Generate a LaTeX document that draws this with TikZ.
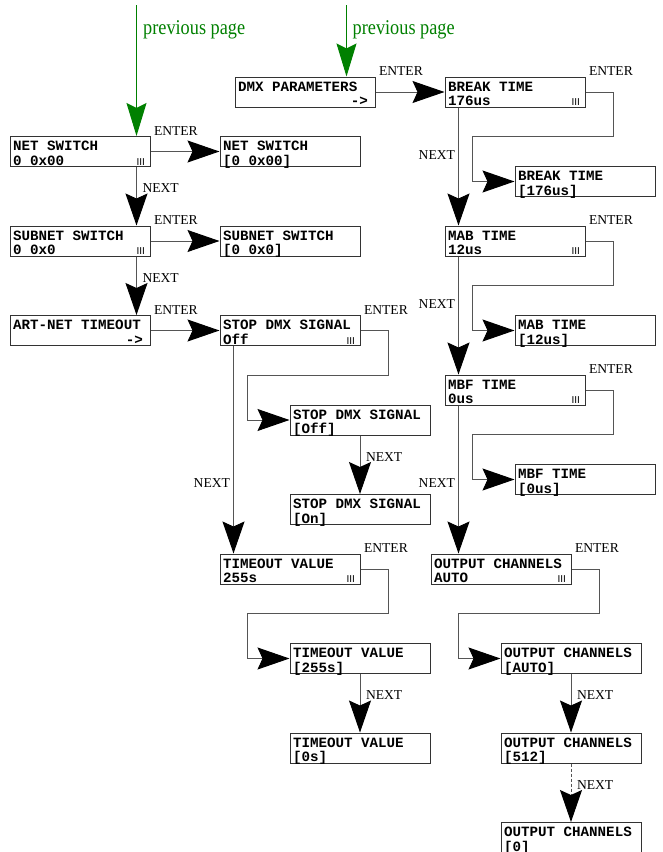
\documentclass[tikz,border=0pt]{standalone}
\usepackage{fontspec}
\setmainfont{Liberation Serif}
\setsansfont{Liberation Sans}
\setmonofont{Liberation Mono}
\newfontfamily\prevfont[FakeStretch=0.87]{Liberation Serif}
\usetikzlibrary{arrows.meta}

\definecolor{prevgreen}{RGB}{0,128,0}
\definecolor{linegray}{RGB}{85,85,85}

\newcommand{\knob}{\hfill{\normalfont\sffamily\fontsize{10}{10}\selectfont III}\kern2pt}
\newcommand{\submenu}{\mbox{}\hfill->\kern4pt}
\newcommand{\fixspace}{\spaceskip=0.6em\relax}

\begin{document}
\begin{tikzpicture}[x=1pt,y=-1pt,
					node distance=89.5pt,
					menu/.style={rectangle,draw=black!80,line width=1pt,
					             font=\ttfamily\bfseries\fontsize{14.2}{14.7}\selectfont,
					             execute at begin node=\fixspace,
					             text width=134pt,align=left,inner xsep=3pt,inner ysep=1pt,
					             text height=13pt,text depth=15pt},
					link/.style={draw=linegray,line width=1pt,
					             -{Stealth[length=32pt,width=22pt,inset=5pt,color=black]}},
					prevarrow/.style={draw=prevgreen,line width=1pt,
					             -{Stealth[length=33pt,width=20pt,inset=5pt,color=prevgreen]}},
					btnlabel/.style={font=\fontsize{13.6}{14}\selectfont,inner sep=0pt},
					enter/.style={btnlabel,pos=0,anchor=base west,xshift=3pt,yshift=16.5pt},
					nextright/.style={btnlabel,pos=0,anchor=base west,xshift=5.5pt,yshift=-25.5pt},
					nextleft/.style={btnlabel,pos=1,anchor=base east,xshift=-3pt,yshift=66.5pt},
					prevtext/.style={text=prevgreen,font=\prevfont\fontsize{21}{23}\selectfont,inner sep=0pt}]

  \useasboundingbox (0,0) rectangle (663,852);

  % network settings
  \node[menu] (ns) at (80,151.5) {NET SWITCH\\0 0x00\knob};
  \node[menu] (sns) [below of=ns] {SUBNET SWITCH\\0 0x0\knob};
  \node[menu] (art) [below of=sns] {ART-NET TIMEOUT\\\submenu};
  \node[menu] (nsv) [node distance=210pt,right of=ns] {NET SWITCH\\{}[0 0x00]};
  \node[menu] (snsv) [node distance=210pt,right of=sns] {SUBNET SWITCH\\{}[0 0x0]};
  \node[menu] (stop) [node distance=210pt,right of=art] {STOP DMX SIGNAL\\Off\knob};
  \node[menu] (stopoff) [below of=stop,xshift=70pt] {STOP DMX SIGNAL\\{}[Off]};
  \node[menu] (stopon) [below of=stopoff] {STOP DMX SIGNAL\\{}[On]};
  \node[menu] (tv) [node distance=238.5pt,below of=stop] {TIMEOUT VALUE\\255s\knob};
  \node[menu] (tvv) [below of=tv,xshift=70pt] {TIMEOUT VALUE\\{}[255s]};
  \node[menu] (tv0) [below of=tvv] {TIMEOUT VALUE\\{}[0s]};

  % dmx settings
  \node[menu] (dmx) at (305,92) {DMX PARAMETERS\\\submenu};
  \node[menu] (bt) [node distance=210pt,right of=dmx] {BREAK TIME\\176us\knob};
  \node[menu] (btv) [below of=bt,xshift=70pt] {BREAK TIME\\{}[176us]};
  \node[menu] (mab) [node distance=149pt,below of=bt] {MAB TIME\\12us\knob};
  \node[menu] (mabv) [below of=mab,xshift=70pt] {MAB TIME\\{}[12us]};
  \node[menu] (mbf) [node distance=149pt,below of=mab] {MBF TIME\\0us\knob};
  \node[menu] (mbfv) [below of=mbf,xshift=70pt] {MBF TIME\\{}[0us]};
  \node[menu] (oc) [node distance=179pt,below of=mbf,xshift=-14pt] {OUTPUT CHANNELS\\AUTO\knob};
  \node[menu] (ocv) [below of=oc,xshift=70pt] {OUTPUT CHANNELS\\{}[AUTO]};
  \node[menu] (oc512) [below of=ocv] {OUTPUT CHANNELS\\{}[512]};
  \node[menu] (oc0) [below of=oc512] {OUTPUT CHANNELS\\{}[0]};

  % coming from the previous page
  \coordinate (top1) at (136.5,5);
  \coordinate (top2) at (346.5,5);
  \draw[prevarrow] (top1) -- (top1 |- ns.north);
  \draw[prevarrow] (top2) -- (top2 |- dmx.north);
  \node[prevtext,anchor=base west] (prev1) at (143,34.5) {previous page};
  \node[prevtext,anchor=base west] (prev2) at (352.5,34.5) {previous page};

  \coordinate (ocnext) at ([xshift=14pt]mbf.south west |- oc.north);

  \path[every edge/.style={link}]
    (ns) edge node[enter] (ent1) {ENTER} (nsv)
    (sns) edge node[enter] (ent2) {ENTER} (snsv)
    (art) edge node[enter] (ent3) {ENTER} (stop)
    (dmx) edge node[enter] (ent4) {ENTER} (bt)
    ([xshift=-14pt]ns.south east) edge node[nextright] (nxt1) {NEXT} ([xshift=-14pt]sns.north east)
    ([xshift=-14pt]sns.south east) edge node[nextright] (nxt2) {NEXT} ([xshift=-14pt]art.north east)
    ([xshift=14pt]stop.south west) edge node[nextleft] (nxt3) {NEXT} ([xshift=14pt]tv.north west)
    (stopoff) edge node[nextright] (nxt4) {NEXT} (stopon)
    (tvv) edge node[nextright] (nxt5) {NEXT} (tv0)
    ([xshift=14pt]bt.south west) edge node[nextleft] (nxt6) {NEXT} ([xshift=14pt]mab.north west)
    ([xshift=14pt]mab.south west) edge node[nextleft] (nxt7) {NEXT} ([xshift=14pt]mbf.north west)
    ([xshift=14pt]mbf.south west) edge node[nextleft] (nxt8) {NEXT} (ocnext)
    (ocv) edge node[nextright] (nxt9) {NEXT} (oc512)
    (oc512) edge[dash pattern=on 3pt off 2pt] node[nextright] (nxt10) {NEXT} (oc0);

  % enter a value
  \draw[link] (stop.east) -- node[enter] (ent5) {ENTER} ++(28,0) -- ++(0,44.5) -| ([xshift=-42pt]stopoff.west) -- (stopoff.west);
  \draw[link] (tv.east) -- node[enter] (ent6) {ENTER} ++(28,0) -- ++(0,44.5) -| ([xshift=-42pt]tvv.west) -- (tvv.west);
  \draw[link] (bt.east) -- node[enter] (ent7) {ENTER} ++(28,0) -- ++(0,44.5) -| ([xshift=-42pt]btv.west) -- (btv.west);
  \draw[link] (mab.east) -- node[enter] (ent8) {ENTER} ++(28,0) -- ++(0,44.5) -| ([xshift=-42pt]mabv.west) -- (mabv.west);
  \draw[link] (mbf.east) -- node[enter] (ent9) {ENTER} ++(28,0) -- ++(0,44.5) -| ([xshift=-42pt]mbfv.west) -- (mbfv.west);
  \draw[link] (oc.east) -- node[enter] (ent10) {ENTER} ++(28,0) -- ++(0,44.5) -| ([xshift=-42pt]ocv.west) -- (ocv.west);
\end{tikzpicture}
\end{document}
